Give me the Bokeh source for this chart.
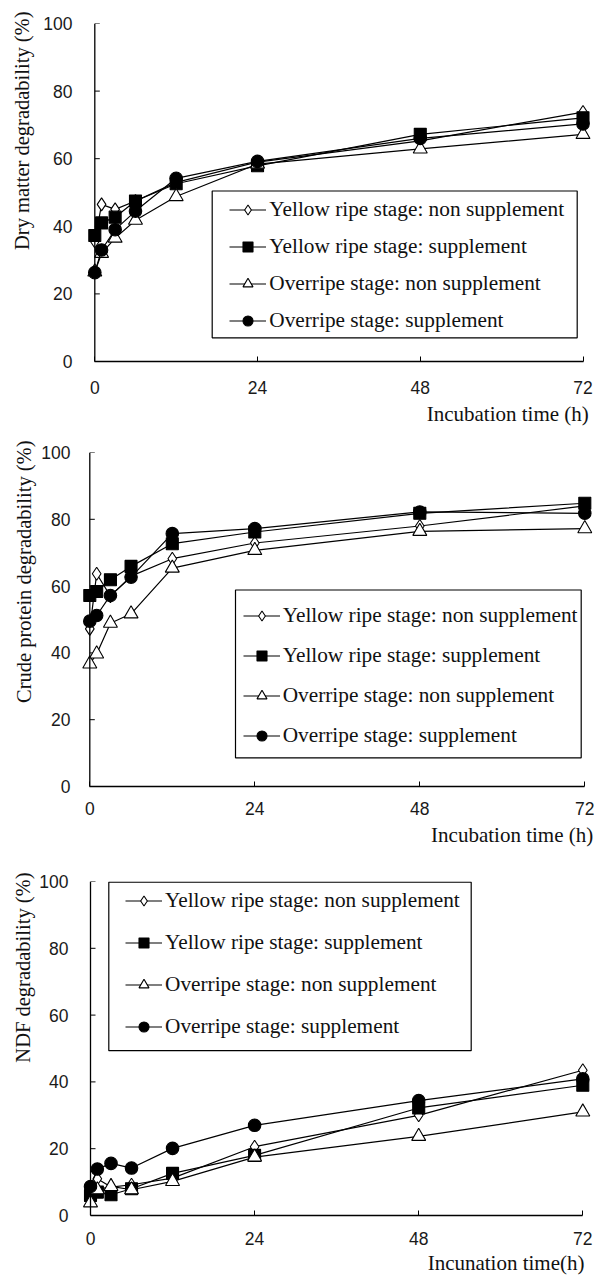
import math
from bokeh.plotting import figure
from bokeh.models import Range1d, Legend, LegendItem, BoxAnnotation, FixedTicker, Span, Title
from bokeh.layouts import column
from bokeh.embed import file_html
from bokeh.resources import INLINE

# ---------------- data ----------------
hours = [0, 1, 3, 6, 12, 24, 48, 72]
x_ticks = [0, 24, 48, 72]
y_ticks = [0, 20, 40, 60, 80, 100]
series_names = [
    "Yellow ripe stage: non supplement",
    "Yellow ripe stage: supplement",
    "Overripe stage: non supplement",
    "Overripe stage: supplement",
]

# Dry matter degradability (%)
dm_yellow_non = [35.5, 46.5, 45.0, 47.5, 53.0, 59.0, 65.3, 73.8]
dm_yellow_sup = [37.3, 41.0, 42.7, 47.5, 52.6, 57.9, 67.2, 72.1]
dm_over_non = [26.5, 32.0, 36.5, 41.8, 48.8, 58.4, 62.9, 67.2]
dm_over_sup = [26.3, 33.0, 39.0, 44.5, 54.2, 59.2, 66.0, 70.3]

# Crude protein degradability (%)
cp_yellow_non = [47.2, 63.7, 57.0, 63.0, 68.2, 72.9, 78.0, 84.0]
cp_yellow_sup = [57.2, 58.4, 61.9, 65.9, 72.7, 76.2, 81.8, 84.8]
cp_over_non = [36.7, 39.7, 48.9, 51.7, 65.4, 70.7, 76.4, 77.2]
cp_over_sup = [49.5, 51.2, 57.2, 62.7, 75.7, 77.2, 82.2, 81.8]

# NDF degradability (%)
ndf_yellow_non = [6.5, 11.0, 8.5, 9.2, 11.2, 20.6, 30.0, 43.5]
ndf_yellow_sup = [6.0, 7.0, 6.2, 8.0, 12.6, 18.0, 32.2, 39.0]
ndf_over_non = [3.8, 7.7, 8.7, 7.7, 10.2, 17.5, 23.7, 31.0]
ndf_over_sup = [8.7, 13.9, 15.6, 14.2, 20.1, 27.0, 34.4, 40.9]

y_titles = ["Dry matter degradability (%)",
            "Crude protein degradability (%)",
            "NDF degradability (%)"]
x_titles = ["Incubation time (h)", "Incubation time (h)", "Incunation time(h)"]
panel_data = [
    [dm_yellow_non, dm_yellow_sup, dm_over_non, dm_over_sup],
    [cp_yellow_non, cp_yellow_sup, cp_over_non, cp_over_sup],
    [ndf_yellow_non, ndf_yellow_sup, ndf_over_non, ndf_over_sup],
]

# ---------------- styles / layout (page pixels) ----------------
W = 594
FL, FR = 74, 592          # common frame left / right (page px)
geom = [
    dict(x0=94.3, x72=582.5, ytop=23, ybot=361, figtop=0, figbot=432,
         box=(211.7, 190.5, 576.7, 337.3), gx=229.3, row1=210.3, pitch=36.7,
         ylab_stand=14, ylab_off=-12, xlab_off=3.7, xlab_stand=7, xstand=19,
         ylabel_right=71.7),
    dict(x0=89.3, x72=584.3, ytop=452, ybot=786, figtop=432, figbot=860,
         box=(235.0, 589.5, 580.7, 757.3), gx=242.7, row1=614.3, pitch=40.3,
         ylab_stand=6, ylab_off=-12, xlab_off=-0.7, xlab_stand=6, xstand=15,
         ylabel_right=70.0),
    dict(x0=90.0, x72=582.3, ytop=881, ybot=1218, figtop=860, figbot=1276,
         box=(108.3, 881.7, 470.7, 1051.7), gx=125.0, row1=903.3, pitch=42.2,
         ylab_stand=4, ylab_off=-9, xlab_off=8, xlab_stand=3, xstand=16,
         ylabel_right=68.3),
]
markers = ["diamond", "square", "triangle", "circle"]
msizes = [13, 12, 14, 12.5]
mfills = ["white", "black", "white", "black"]
SERIF = "Liberation Serif"
SANS = "Liberation Sans"
TICK_IN = 5

figs = []
for g, ytitle, xtitle, data in zip(geom, y_titles, x_titles, panel_data):
    s = (g["x72"] - g["x0"]) / 72.0
    xlo = -(g["x0"] - FL) / s
    xhi = 72 + (FR - g["x72"]) / s
    bl = FL
    br = W - FR
    bt = g["ytop"] - g["figtop"]
    fh = g["ybot"] - g["ytop"]
    H = g["figbot"] - g["figtop"]
    bb = H - bt - fh
    yscale = fh / 100.0

    p = figure(width=W, height=H, output_backend="svg", toolbar_location=None,
               x_range=Range1d(xlo, xhi), y_range=Range1d(0, 100),
               min_border_left=bl, min_border_right=br,
               min_border_top=bt, min_border_bottom=bb)
    p.outline_line_color = None
    p.grid.visible = False
    p.background_fill_color = "white"

    for ax in (p.xaxis[0], p.yaxis[0]):
        ax.major_tick_line_color = "black"
        ax.major_tick_line_width = 1
        ax.major_tick_in = TICK_IN
        ax.major_tick_out = 0
        ax.minor_tick_line_color = None
        ax.major_label_text_font = SANS
        ax.major_label_text_font_size = "17.5px"
        ax.major_label_text_color = "#1a1a1a"
    p.xaxis.ticker = FixedTicker(ticks=x_ticks)
    p.yaxis.ticker = FixedTicker(ticks=y_ticks)
    p.xaxis.axis_line_color = "black"
    p.xaxis.axis_line_width = 1.3
    p.xaxis.bounds = (0, 72)
    p.xaxis.major_label_standoff = g["xstand"]
    # y axis: labels from the frame-side axis, visible spine drawn at x = 0
    p.yaxis.axis_line_color = None
    p.yaxis.major_tick_line_color = None
    p.yaxis.major_label_standoff = int(round(FL - g["ylabel_right"]))
    p.add_layout(Span(location=0, dimension="height", line_color="black", line_width=1.3))
    p.segment(x0=[0] * len(y_ticks), y0=y_ticks, x1=[TICK_IN / s] * len(y_ticks), y1=y_ticks,
              line_color="black", line_width=1)

    # legend frame (white box with black border)
    L, T, R, B = g["box"]
    p.add_layout(BoxAnnotation(
        left=xlo + (L - FL) / s, right=xlo + (R - FL) / s,
        top=(g["ybot"] - T) / yscale, bottom=(g["ybot"] - B) / yscale,
        fill_color="white", fill_alpha=1.0, line_color="black", line_width=1.2,
        line_alpha=1.0))

    items = []
    for name, vals, mk, ms, mf in zip(series_names, data, markers, msizes, mfills):
        lr = p.line(hours, vals, line_color="black", line_width=1.2)
        sr = p.scatter(hours, vals, marker=mk, size=ms, fill_color=mf,
                       line_color="black", line_width=1.1)
        items.append(LegendItem(label=name, renderers=[lr, sr]))

    ih = 25
    spacing = int(round(g["pitch"] - ih))
    leg_bottom = g["row1"] + 3 * g["pitch"] + ih / 2.0
    legend = Legend(items=items,
                    location=(g["gx"] - FL, g["ybot"] - leg_bottom),
                    label_text_font=SERIF, label_text_font_size="21.3px",
                    label_text_color="#111111",
                    glyph_width=37, glyph_height=ih, label_height=ih,
                    label_standoff=3, spacing=spacing, padding=0, margin=0,
                    border_line_color=None, background_fill_alpha=0.0)
    p.add_layout(legend)

    # axis titles
    p.add_layout(Title(text=xtitle, align="right", offset=g["xlab_off"],
                       standoff=g["xlab_stand"], text_font=SERIF,
                       text_font_size="21px", text_font_style="normal",
                       text_color="#111111"), "below")
    p.add_layout(Title(text=ytitle, align="right", offset=g["ylab_off"],
                       standoff=g["ylab_stand"], vertical_align="middle",
                       text_font=SERIF,
                       text_font_size="20.5px", text_font_style="normal",
                       text_color="#111111"), "left")
    figs.append(p)

layout = column(*figs, spacing=0)
open("out.html", "w").write(file_html(layout, INLINE))
